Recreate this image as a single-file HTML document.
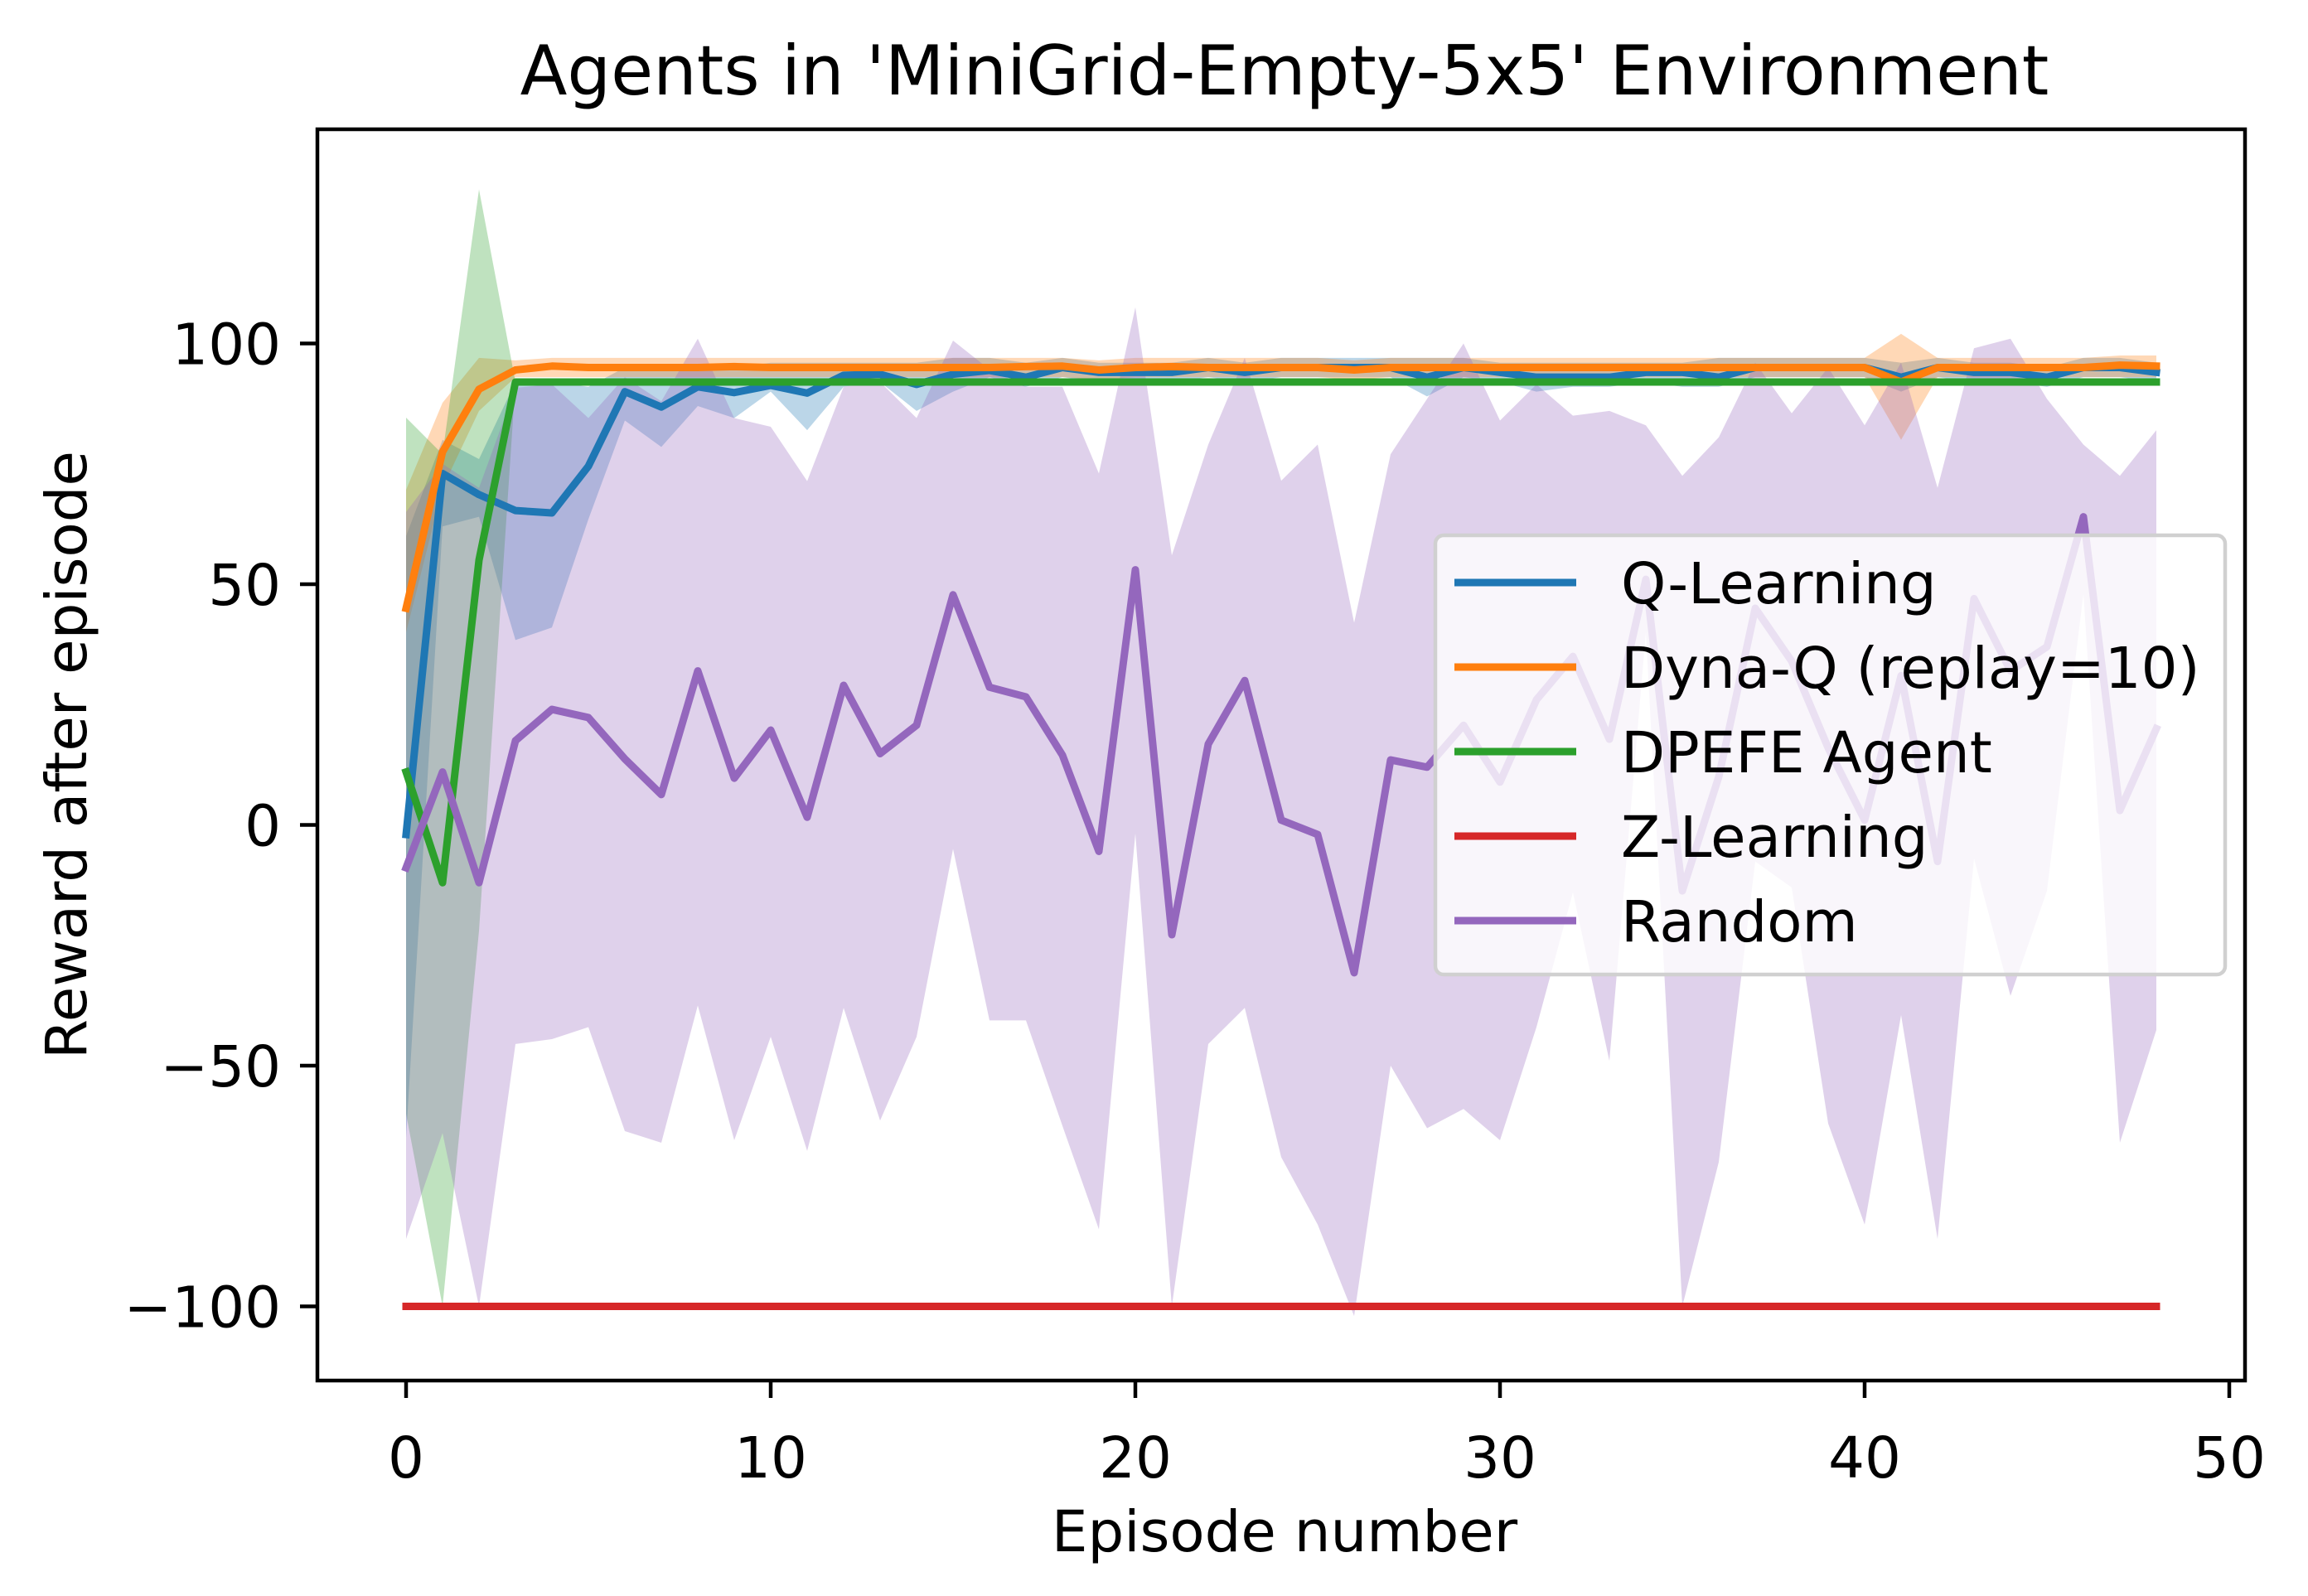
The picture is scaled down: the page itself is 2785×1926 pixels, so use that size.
<!DOCTYPE html>
<html><head><meta charset="utf-8"><style>
html,body{margin:0;padding:0;background:#fff;}
svg{display:block;font-family:"DejaVu Sans","Liberation Sans",sans-serif;}
</style></head><body>
<svg id="chart" width="2785" height="1926" viewBox="0 0 2785 1926" xmlns="http://www.w3.org/2000/svg">
<rect x="0" y="0" width="2785" height="1926" fill="#fff"/>
<text x="1550" y="114" font-size="83" text-anchor="middle">Agents in 'MiniGrid-Empty-5x5' Environment</text>
<g id="plot"></g>
<g id="axes"></g>
<text x="1550" y="1872" font-size="69" text-anchor="middle">Episode number</text>
<text transform="translate(104,911) rotate(-90)" font-size="69" text-anchor="middle">Reward after episode</text>
<g id="legend"></g>
</svg>
<script>
const xTicks = [0,10,20,30,40,50];
const yTicks = [100,50,0,-50,-100];
const yTickLabels = ["100","50","0","\u221250","\u2212100"];
const qMean = [-2,73,68.6,65.3,64.8,74.5,90,86.8,91,89.8,91.3,89.7,93.4,93.6,91.5,93.6,94.4,93,95,94,94,94,95,94,95,95,95,95,93,95,94,93,93,93,94,94,93,95,95,95,95,93,95,94,94,93,95,95,94];
const qLower = [-65,62,64,38.4,41,63.5,84,78.5,87,84.5,90,82,91,92,86,90,93,91,93,92,92,92,93,92,93,93,93,93,89,93,92,90,91,91,92,91,91,93,93,93,93,90,93,92,92,91,93,93,92];
const qUpper = [60,80,76,92,92,91,95,95,95,95,96,96,96,96,96,97,97,96,97,96,96,96,97,96,97,97,97,97,97,97,96,96,96,96,96,96,97,97,97,97,97,96,97,96,96,95,97,97,96];
const dMean = [45,77.5,90.5,94.5,95.3,95,95,95,95,95.2,95,95,95,95,95,95,95,95.2,95.3,94.5,95,95.2,95,95,95,95,94.5,95,95,95,95,95,95,95,95,95,95,95,95,95,95,92,95,95,95,95,95,95.5,95.3];
const dLower = [40,70,86,93,93,93,93,93,93,93,93,93,93,93,93,93,93,93,93,92.5,93,93,93,93,93,93,92.5,93,93,93,93,93,93,93,93,93,93,93,93,93,93,80,93,93,93,93,93,93,93];
const dUpper = [69.6,87.7,97,96.5,97,97,97,97,97,97,97,97,97,97,97,97,97,97,97,96.5,97,97,97,97,97,97,96.5,97,97,97,97,97,97,97,97,97,97,97,97,97,97,102,97,97,97,97,97,97.5,97.5];
const gMean = [11,-12,55,92,92,92,92,92,92,92,92,92,92,92,92,92,92,92,92,92,92,92,92,92,92,92,92,92,92,92,92,92,92,92,92,92,92,92,92,92,92,92,92,92,92,92,92,92,92];
const gLower = [-60,-100,-22,92,92,92,92,92,92,92,92,92,92,92,92,92,92,92,92,92,92,92,92,92,92,92,92,92,92,92,92,92,92,92,92,92,92,92,92,92,92,92,92,92,92,92,92,92,92];
const gUpper = [84.6,77,132,92,92,92,92,92,92,92,92,92,92,92,92,92,92,92,92,92,92,92,92,92,92,92,92,92,92,92,92,92,92,92,92,92,92,92,92,92,92,92,92,92,92,92,92,92,92];
const zMean = [-100,-100,-100,-100,-100,-100,-100,-100,-100,-100,-100,-100,-100,-100,-100,-100,-100,-100,-100,-100,-100,-100,-100,-100,-100,-100,-100,-100,-100,-100,-100,-100,-100,-100,-100,-100,-100,-100,-100,-100,-100,-100,-100,-100,-100,-100,-100,-100,-100];
const rMean = [-8.9,11,-12,17.5,24,22.3,13.7,6.3,32,9.7,19.7,1.6,29,14.8,20.7,47.8,28.6,26.6,14.5,-5.5,53,-22.8,16.8,30,1,-2,-30.7,13.5,12,20.7,8.9,26,35,17.8,51,-13.7,10,45,34,16,1,31,-7.6,47,32,37,64,3,20];
const rLower = [-86,-64,-100,-45.5,-44.5,-42,-63.6,-66,-37.5,-65.5,-44,-67.7,-38,-61.4,-44,-5,-40.6,-40.6,-62.5,-84,-1.8,-100,-45.5,-38,-69,-83,-102,-50,-63,-59,-65.5,-42,-14,-49,40,-100,-70,-7.6,-13,-62,-83,-39.5,-86,-7,-35.5,-13.7,48,-66,-42.6];
const rUpper = [65,75,70,90.8,91.5,84.5,93,88,101,84.5,82.7,71.4,91,92,84.5,100.6,94.6,91,91,73,107.5,56,79,97,71.5,79,42,77,88.5,100,84,91.5,85,86,83,72.5,80.5,96,85.5,95,83,96,70,99,101,88.5,79,72.5,82];
const seriesNames = ["Q-Learning","Dyna-Q (replay=10)","DPEFE Agent","Z-Learning","Random"];

const NS="http://www.w3.org/2000/svg";
const X0=383,X1=2709,Y0=156,Y1=1666;
function sx(v){return 490+44*v;}
function sy(v){return 995.5-5.81*v;}
const plot=document.getElementById('plot');
const axes=document.getElementById('axes');
const legend=document.getElementById('legend');
function mk(tag,attrs,parent){const e=document.createElementNS(NS,tag);for(const k in attrs)e.setAttribute(k,attrs[k]);parent.appendChild(e);return e;}
const clip=mk('clipPath',{id:'clp'},document.getElementById('chart'));
mk('rect',{x:X0,y:Y0,width:X1-X0,height:Y1-Y0},clip);
plot.setAttribute('clip-path','url(#clp)');

const series=[
 {m:qMean,lo:qLower,hi:qUpper,c:'#1f77b4',n:'q-learning'},
 {m:dMean,lo:dLower,hi:dUpper,c:'#ff7f0e',n:'dyna-q'},
 {m:gMean,lo:gLower,hi:gUpper,c:'#2ca02c',n:'dpefe-agent'},
 {m:zMean,lo:zMean,hi:zMean,c:'#d62728',n:'z-learning'},
 {m:rMean,lo:rLower,hi:rUpper,c:'#9467bd',n:'random'}
];
series.forEach(s=>{
  let d='';
  s.hi.forEach((v,i)=>{d+=(i?'L':'M')+sx(i)+','+sy(v);});
  for(let i=s.lo.length-1;i>=0;i--)d+='L'+sx(i)+','+sy(s.lo[i]);
  d+='Z';
  const b=mk('path',{d:d,fill:s.c,'fill-opacity':0.3,stroke:'none'},plot);
  
  
});
series.forEach(s=>{
  const pts=s.m.map((v,i)=>sx(i)+','+sy(v)).join(' ');
  const l=mk('polyline',{points:pts,fill:'none',stroke:s.c,'stroke-width':9,'stroke-linejoin':'round','stroke-linecap':'square'},plot);
  
  
});
const sp=mk('rect',{x:X0,y:Y0,width:X1-X0,height:Y1-Y0,fill:'none',stroke:'#000','stroke-width':4.5},axes);


xTicks.forEach(t=>{
  const g=mk('g',{},axes);
  
  
  mk('line',{x1:sx(t),x2:sx(t),y1:Y1,y2:Y1+21,stroke:'#000','stroke-width':4.5},g);
  const tx=mk('text',{x:sx(t),y:Y1+117,'font-size':69,'text-anchor':'middle'},g);
  tx.textContent=t;
});
yTicks.forEach((t,i)=>{
  const g=mk('g',{},axes);
  
  
  mk('line',{x1:X0-21,x2:X0,y1:sy(t),y2:sy(t),stroke:'#000','stroke-width':4.5},g);
  const tx=mk('text',{x:X0-44,y:sy(t)+25,'font-size':69,'text-anchor':'end'},g);
  tx.textContent=yTickLabels[i];
});
const lb=mk('rect',{x:1732,y:646,width:953,height:530,rx:10,fill:'#fff','fill-opacity':0.8,stroke:'#d0d0d0','stroke-width':4.5},legend);


series.forEach((s,i)=>{
  const y=703+102*i;
  const g=mk('g',{},legend);
  
  
  mk('line',{x1:1755,x2:1902,y1:y,y2:y,stroke:s.c,'stroke-width':9},g);
  const tx=mk('text',{x:1956,y:y+25,'font-size':69},g);
  tx.textContent=seriesNames[i];
});
</script>
</body></html>
